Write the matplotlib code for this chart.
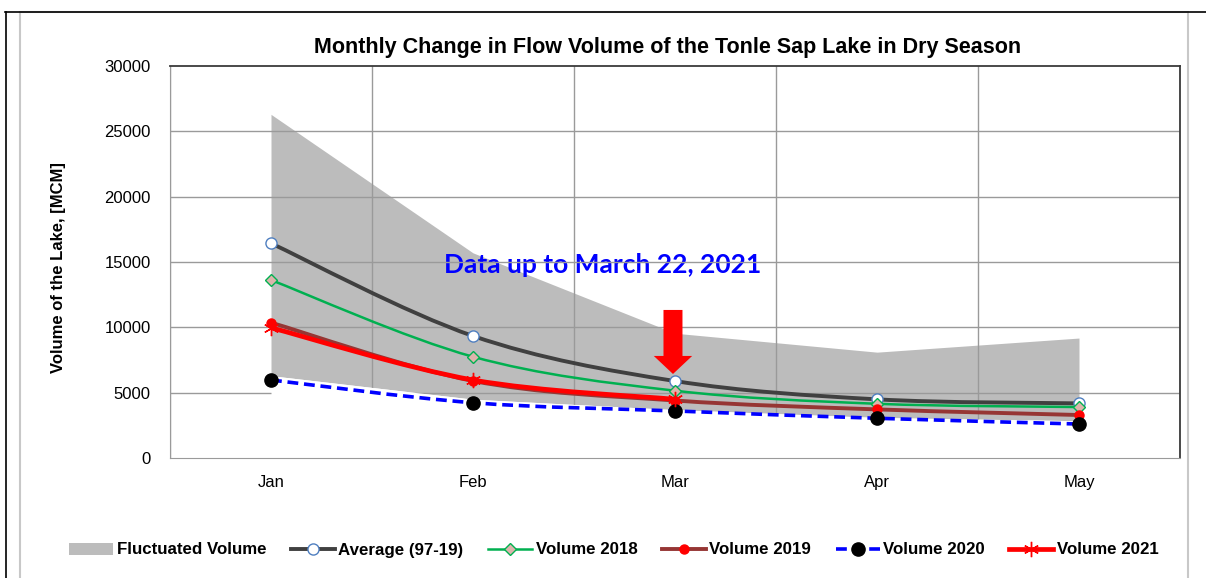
import numpy as np
import matplotlib
matplotlib.use("Agg")
import matplotlib.pyplot as plt
from matplotlib.path import Path
from matplotlib.patches import PathPatch, FancyArrow, Rectangle
from matplotlib.lines import Line2D

plt.rcParams["font.family"] = ["Liberation Sans", "DejaVu Sans"]

months = ["Jan", "Feb", "Mar", "Apr", "May"]
fluct_low = [6300, 4500, 3700, 3100, 2850]
fluct_high = [26300, 15700, 9550, 8100, 9180]
avg_9719 = [16430, 9340, 5890, 4490, 4180]
vol_2018 = [13620, 7750, 5150, 4150, 3900]
vol_2019 = [10360, 5900, 4400, 3720, 3290]
vol_2020 = [5970, 4230, 3600, 3040, 2600]
vol_2021 = [9970, 5970, 4490]


def smooth_path(xs, ys):
    # Excel-like smoothed line: cubic Bezier segments through the points
    p = np.column_stack([xs, ys]).astype(float)
    n = len(p)
    verts = [p[0]]
    codes = [Path.MOVETO]
    for i in range(n - 1):
        p0 = p[i - 1] if i > 0 else p[i]
        p1, p2 = p[i], p[i + 1]
        p3 = p[i + 2] if i + 2 < n else p[i + 1]
        c1 = p1 + (p2 - p0) / 6.0
        c2 = p2 - (p3 - p1) / 6.0
        verts += [c1, c2, p2]
        codes += [Path.CURVE4] * 3
    return Path(verts, codes)


fig = plt.figure(figsize=(12.06, 5.78), dpi=100)

# outer frame
fig.add_artist(Rectangle((20 / 1206, -0.1), (1188 - 20) / 1206, 1.1 - 12.5 / 578,
                         transform=fig.transFigure, fill=False,
                         edgecolor="#c8c8c8", lw=1.5))
fig.add_artist(Line2D([5 / 1206, 1], [1 - 11.5 / 578, 1 - 11.5 / 578],
                      transform=fig.transFigure, color="black", lw=1.2))
fig.add_artist(Line2D([5.5 / 1206, 5.5 / 1206], [0, 1 - 11.5 / 578],
                      transform=fig.transFigure, color="black", lw=1.2))

ax = fig.add_axes([170 / 1206, 1 - 458 / 578, 1010 / 1206, 392 / 578])
x = np.arange(len(months))

ax.set_xlim(-0.5, 4.5)
ax.set_ylim(0, 30000)
ax.set_yticks(np.arange(0, 30001, 5000))
ax.set_xticks(x)
ax.set_xticklabels(months)
ax.tick_params(length=0, labelsize=12)
ax.tick_params(axis="y", pad=14)
ax.tick_params(axis="x", pad=12)

# gridlines at category boundaries and at y ticks
for gx in np.arange(-0.5, 4.6, 1.0):
    ax.axvline(gx, color="#9a9a9a", lw=1.0, zorder=2)
for gy in np.arange(5000, 30000, 5000):
    ax.axhline(gy, color="#9a9a9a", lw=1.0, zorder=2)

for side in ["left", "bottom"]:
    ax.spines[side].set_color("#9a9a9a")
for side in ["top", "right"]:
    ax.spines[side].set_color("#3a3a3a")
    ax.spines[side].set_linewidth(1.3)
for s in ax.spines.values():
    s.set_zorder(6)

# fluctuation band (gray), white below it hides gridlines
ax.fill_between(x, fluct_low, fluct_high, color="#bcbcbc", lw=0, zorder=1)
ax.fill_between(x, 0, fluct_low, color="white", lw=0, zorder=2.5)

ax.text(1.644, 14770, "Data up to March 22, 2021", color="#0000ff",
        fontsize=19, fontweight="bold", family=["Lato", "DejaVu Sans"],
        ha="center", va="center", zorder=1.5)

series = [
    (avg_9719, dict(color="#404040", lw=2.8, ls="-"),
     dict(marker="o", ms=8, mfc="white", mec="#4f7fc0", mew=1.0), "Average (97-19)"),
    (vol_2018, dict(color="#00b050", lw=1.8, ls="-"),
     dict(marker="D", ms=6, mfc="#dcb4ac", mec="#00b050", mew=1.0), "Volume 2018"),
    (vol_2019, dict(color="#963634", lw=2.8, ls="-"),
     dict(marker="o", ms=6.5, mfc="#ff0000", mec="#ff0000", mew=1.0), "Volume 2019"),
    (vol_2020, dict(color="#0000ff", lw=2.6, ls=(0, (3, 1.6))),
     dict(marker="o", ms=9.5, mfc="black", mec="black", mew=1.0), "Volume 2020"),
    (vol_2021, dict(color="#ff0000", lw=3.4, ls="-"),
     dict(marker=(6, 2, 0), ms=11, mfc="#ff0000", mec="#ff0000", mew=1.0), "Volume 2021"),
]

handles = [Rectangle((0, 0), 1, 1, facecolor="#bcbcbc", edgecolor="none")]
labels = ["Fluctuated Volume"]
z = 3
for vals, lstyle, mstyle, lab in series:
    xs = x[:len(vals)]
    patch = PathPatch(smooth_path(xs, vals), fill=False, edgecolor=lstyle["color"],
                      lw=lstyle["lw"], linestyle=lstyle["ls"], capstyle="butt",
                      zorder=z)
    ax.add_patch(patch)
    ax.plot(xs, vals, ls="none", zorder=z + 0.5, **mstyle)
    handles.append(Line2D([0], [0], color=lstyle["color"], lw=lstyle["lw"],
                          ls=lstyle["ls"], **mstyle))
    labels.append(lab)
    z += 1

# red arrow pointing at March
ax.add_patch(FancyArrow(1.99, 11330, 0, -4900, width=0.094, head_width=0.19,
                        head_length=1380, length_includes_head=True,
                        color="#ff0000", lw=0, zorder=10))

fig.text(668 / 1206, 1 - 47 / 578,
         "Monthly Change in Flow Volume of the Tonle Sap Lake in Dry Season",
         ha="center", va="center", fontsize=15.5, fontweight="bold")
fig.text(58 / 1206, 1 - 268 / 578, "Volume of the Lake, [MCM]", rotation=90,
         ha="center", va="center", fontsize=12, fontweight="bold")

fig.legend(handles, labels, loc="center", bbox_to_anchor=(614 / 1206, 1 - 550 / 578),
           ncol=6, frameon=False, prop=dict(size=12.2, weight="bold"),
           handlelength=2.6, handletextpad=0.2, columnspacing=1.45)

fig.savefig("out.png", dpi=100)
